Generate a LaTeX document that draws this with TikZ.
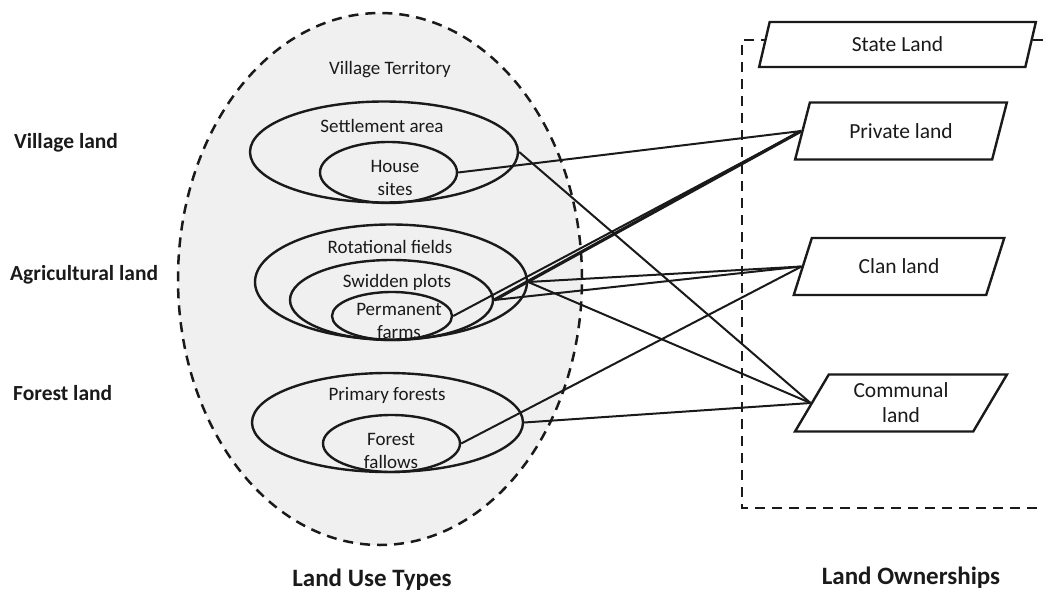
\documentclass[tikz,border=0pt]{standalone}
\usepackage{fontspec}
\setmainfont{Carlito}
\usetikzlibrary{shapes.geometric}
\definecolor{territory}{HTML}{F0F0F0}
\definecolor{ink}{HTML}{1A1A1A}
\begin{document}
\begin{tikzpicture}[x=1pt,y=-1pt,
  zone/.style={ellipse, draw=ink, line width=2.4pt, inner sep=0pt},
  lbl/.style={font=\fontsize{19}{23}\selectfont, align=center, inner sep=0pt, text=ink},
  side/.style={font=\bfseries\fontsize{21.5}{26}\selectfont, anchor=west, inner sep=0pt, text=ink},
  heading/.style={font=\bfseries\fontsize{25}{30}\selectfont, inner sep=0pt, text=ink},
  own/.style={trapezium, trapezium stretches=true, trapezium left angle=61,
    trapezium right angle=119, draw=ink, line width=2.4pt, fill=white,
    minimum width=212pt, minimum height=57pt, inner sep=0pt,
    font=\fontsize{21.5}{25}\selectfont, align=center, text=ink},
  link/.style={draw=ink, line width=2pt},
  border/.style={draw=ink, line width=2.5pt, dash pattern=on 10pt off 7pt},
]
\useasboundingbox (0,0) rectangle (1043,594);

% village territory
\node[ellipse, border, fill=territory, minimum width=404pt, minimum height=532pt, inner sep=0pt]
  (terr) at (380,279) {};

% ownership frame, open to the right
\coordinate (frameTR) at (1043,40);
\coordinate (frameBR) at (1043,508);
\draw[border] (frameTR) -- (742,40) -- (742,508) -- (frameBR);

% land use zones
\node[zone, minimum width=268pt, minimum height=101pt] (settle) at (384,152) {};
\node[zone, minimum width=137pt, minimum height=61pt]  (house)  at (388.5,172.5) {};
\node[zone, minimum width=272pt, minimum height=115pt] (rot)    at (391,282) {};
\node[zone, minimum width=203pt, minimum height=80pt]  (swid)   at (391.5,300) {};
\node[zone, minimum width=120pt, minimum height=48pt]  (perm)   at (392,316) {};
\node[zone, minimum width=271pt, minimum height=99pt]  (prim)   at (387.5,422.5) {};
\node[zone, minimum width=137pt, minimum height=57pt]  (fall)   at (391.5,443.5) {};

% zone labels
\node[lbl] (tVT)   at (390,70)  {Village Territory};
\node[lbl] (tSA)   at (382,126) {Settlement area};
\node[lbl] (tHS)   at (395,178) {House\\sites};
\node[lbl] (tRF)   at (390,247) {Rotational fields};
\node[lbl] (tSP)   at (397,282) {Swidden plots};
\node[lbl] (tPF)   at (399,321) {Permanent\\farms};
\node[lbl] (tPr)   at (387,395) {Primary forests};
\node[lbl] (tFF)   at (391,451) {Forest\\fallows};

% categories on the left
\node[side] (vl) at (14,143) {Village land};
\node[side] (al) at (10,275) {Agricultural land};
\node[side] (fl) at (13,393) {Forest land};

% ownership types
\node[own, trapezium left angle=76, trapezium right angle=104,
  minimum width=277pt, minimum height=45pt] (state) at (897.5,44.5) {State Land};
\node[own] (priv) at (901,131)   {Private land};
\node[own] (clan) at (899,266.5) {Clan land};
\node[own] (comm) at (901,403)   {Communal\\land};

% links between land use and ownership
\draw[link] (house.east) -- (priv.left side);
\draw[link] (perm.east)  -- (priv.left side);
\draw[link, line width=3.2pt] (swid.east) -- (priv.left side);
\draw[link] (rot.east)   -- (clan.left side);
\draw[link] (swid.east)  -- (clan.left side);
\draw[link] (fall.east)  -- (clan.left side);
\draw[link] (settle.east) -- (comm.left side);
\draw[link] (rot.east)   -- (comm.left side);
\draw[link] (prim.east)  -- (comm.left side);

% headings
\node[heading] (hUse) at (372,580) {Land Use Types};
\node[heading] (hOwn) at (911,578) {Land Ownerships};
\end{tikzpicture}
\end{document}
